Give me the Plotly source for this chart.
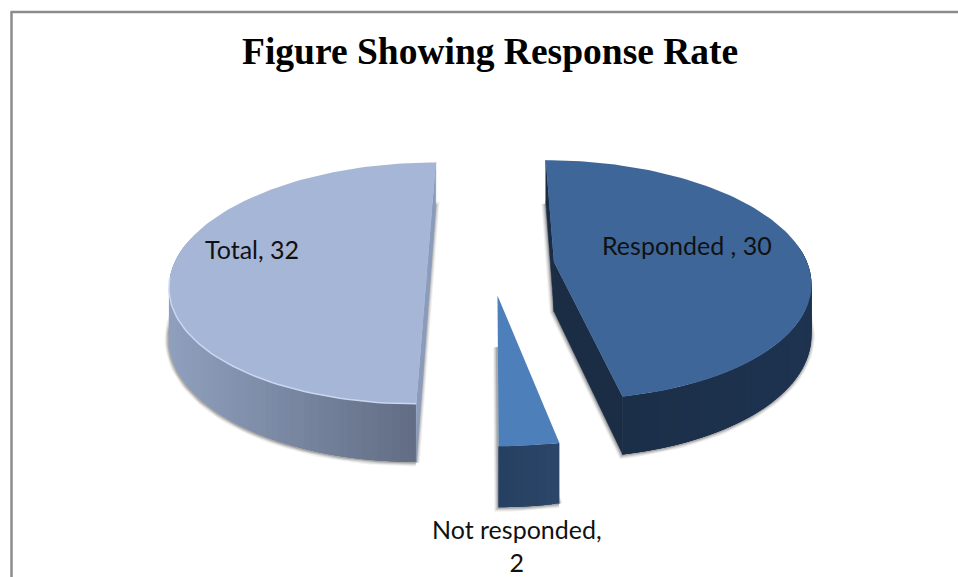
import math
import plotly.graph_objects as go

# ---- data
categories = ["Responded ", "Not responded", "Total"]
values = [30, 2, 32]
title_text = "Figure Showing Response Rate"

# ---- view of the 3-D pie (perspective on a tilted plane)
X0, Y0 = 491.0, 265.0
R, RK = 254.0, 118.0
PERSP = 0.15
EXPLODE = 0.25
DEPTH = 49.5
STEP = 1.5


def project(u, v, drop=0.0):
    s = 1.0 / (1.0 - PERSP * v)
    return X0 + R * u * s, Y0 + RK * v * s + drop * s


def lerp_color(a, b, t):
    return "rgb(%d,%d,%d)" % tuple(round(a[i] + (b[i] - a[i]) * t) for i in range(3))


styles = [
    dict(top="#3e6698", face="#1a2d45", wall=((26, 45, 69), (30, 51, 80)), rim=None),
    dict(top="#4d7fbb", face=None, wall=((38, 64, 96), (43, 70, 104)), rim=None),
    dict(top="#a6b6d6", face="#8a9bbb", wall=((143, 160, 190), (94, 105, 127)), rim="#c9d7f0"),
]

fig = go.Figure()


def poly(pts, fill=None, line=None, width=0.0):
    fig.add_trace(go.Scatter(
        x=[p[0] for p in pts] + [pts[0][0]], y=[p[1] for p in pts] + [pts[0][1]],
        mode="lines", fill="toself" if fill else "none", fillcolor=fill,
        line=dict(color=line or "rgba(0,0,0,0)", width=width),
        hoverinfo="skip", showlegend=False))


total = sum(values)
slices = []
start = 0.0
for cat, val, st in zip(categories, values, styles):
    sweep = 360.0 * val / total
    bis = math.radians(start + sweep / 2)
    eu, ev = EXPLODE * math.sin(bis), -EXPLODE * math.cos(bis)
    n = max(2, int(round(sweep / STEP)))
    angles = [math.radians(start + sweep * i / n) for i in range(n + 1)]
    rim = [(eu + math.sin(a), ev - math.cos(a)) for a in angles]
    slices.append(dict(cat=cat, apex=(eu, ev), rim=rim, st=st))
    start += sweep

# soft shadows under every block
for sl in slices:
    low = [project(u, v, DEPTH) for u, v in sl["rim"]]
    a_low = project(*sl["apex"], DEPTH)
    outline = low + [a_low]
    for w, alpha in ((8, 0.08), (6, 0.12), (4, 0.18), (2, 0.28)):
        poly([(x - 0.5, y + 0.5) for x, y in outline], line="rgba(90,90,90,%.2f)" % alpha, width=w)

# walls and tops
for sl in slices:
    st = sl["st"]
    top = [project(u, v) for u, v in sl["rim"]]
    low = [project(u, v, DEPTH) for u, v in sl["rim"]]
    xs = [p[0] for p in top]
    xmin, xmax = min(xs), max(xs)
    last = len(top) - 1
    for i in range(last):
        if top[i][1] < Y0 - 20 and top[i + 1][1] < Y0 - 20:
            continue
        j = min(i + 3, last)
        t = ((top[i][0] + top[i + 1][0]) / 2 - xmin) / (xmax - xmin)
        col = lerp_color(st["wall"][0], st["wall"][1], t)
        poly([top[k] for k in range(i, j + 1)] + [low[k] for k in range(j, i - 1, -1)], fill=col)
    if st["face"]:
        a_top = project(*sl["apex"])
        a_low = project(*sl["apex"], DEPTH)
        poly([top[0], low[0], a_low, a_top], fill=st["face"], line=st["face"], width=0.5)
        poly([top[-1], low[-1], a_low, a_top], fill=st["face"], line=st["face"], width=0.5)
    poly([project(*sl["apex"])] + top, fill=st["top"])
    if st["rim"]:
        front = [p for p in top if p[1] > Y0 + 10]
        fig.add_trace(go.Scatter(x=[p[0] for p in front], y=[p[1] for p in front], mode="lines",
                                 line=dict(color=st["rim"], width=1.5), hoverinfo="skip", showlegend=False))

label_font = dict(family="Lato, Open Sans, sans-serif", size=25, color="#111111")
labels = [
    (f"{categories[0]}, {values[0]}", 687, 245),
    (f"{categories[1]},<br>{values[1]}", 517, 545),
    (f"{categories[2]}, {values[2]}", 252, 249),
]
annotations = [dict(x=x, y=y, xref="x", yref="y", text=t, showarrow=False, font=label_font,
                    xanchor="center", yanchor="middle", align="center") for t, x, y in labels]
annotations.append(dict(x=490, y=51, xref="x", yref="y", text=f"<b>{title_text}</b>", showarrow=False,
                        font=dict(family="Liberation Serif, serif", size=37.5, color="#000000"),
                        xanchor="center", yanchor="middle"))

fig.update_layout(
    width=958, height=577, margin=dict(l=0, r=0, t=0, b=0),
    paper_bgcolor="white", plot_bgcolor="white", showlegend=False,
    xaxis=dict(range=[0, 958], visible=False, fixedrange=True),
    yaxis=dict(range=[577, 0], visible=False, fixedrange=True),
    annotations=annotations,
    shapes=[dict(type="line", x0=11.5, x1=11.5, y0=12, y1=577, xref="x", yref="y", line=dict(color="#8c8c8c", width=2.5)),
            dict(type="line", x0=10.5, x1=958, y0=12, y1=12, xref="x", yref="y", line=dict(color="#8c8c8c", width=2.5))],
)
fig.write_html("out.html", config={"displayModeBar": False},
               post_script="document.body.style.margin='0';document.body.style.overflow='hidden';")
